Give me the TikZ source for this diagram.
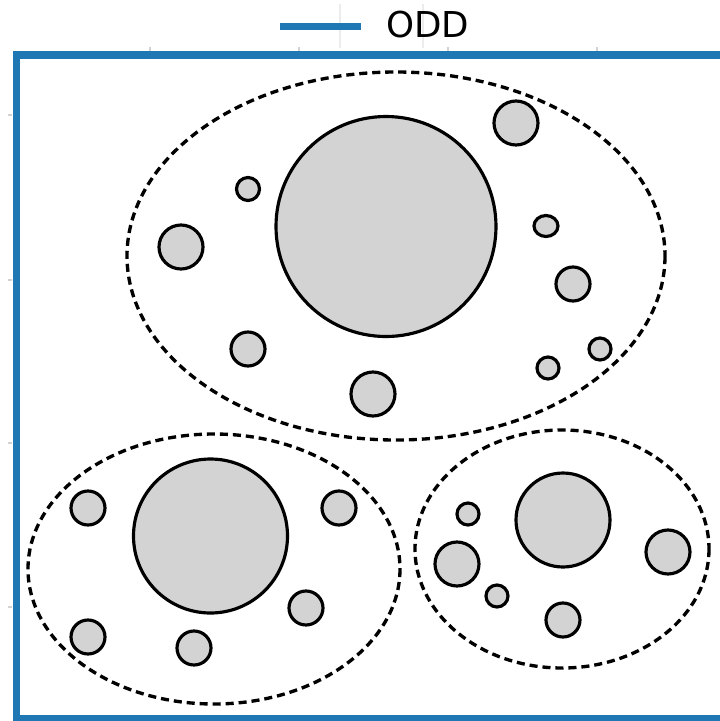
\documentclass[tikz,border=0pt]{standalone}
\usepackage{fontspec}
\setmainfont{DejaVu Sans}
\definecolor{oddblue}{HTML}{1F77B4}
\definecolor{cellgray}{HTML}{D3D3D3}

\begin{document}
\begin{tikzpicture}[x=0.02cm,y=-0.02cm,
  cell/.style={draw=black, fill=cellgray, line width=1.8pt},
  cluster/.style={draw=black, line width=1.9pt, dash pattern=on 4.6pt off 2.8pt},
  tickmark/.style={draw=gray!35, line width=0.7pt}]
\useasboundingbox (0,0) rectangle (720,721);

% legend
\draw[gray!15, line width=0.6pt] (340,4)--(340,48);
\draw[gray!15, line width=0.6pt] (423,4)--(423,48);
\draw[oddblue, line width=4pt] (280,26.5)--(361,26.5);
\node[anchor=west, inner sep=0pt, font=\fontsize{20.3}{22}\selectfont] (oddlabel) at (386,25) {ODD};

% ticks
\foreach \tx in {150,299,448,597} \draw[tickmark] (\tx,47)--(\tx,51);
\foreach \ty in {115,280,443,607} \draw[tickmark] (8,\ty)--(12,\ty);

% frame
\draw[oddblue, line width=4.5pt] (16.5,55) rectangle (740,719);

\begin{scope}
\draw[cluster] (396,256) ellipse (269 and 184);
\draw[cell] (386,226.5) circle (110);

\draw[cell] (516,123) circle (22);
\draw[cell] (248,189) circle (11.5);
\draw[cell] (181,247) circle (22);
\draw[cell] (546,226) ellipse (12 and 10.5);
\draw[cell] (573,284) circle (17);
\draw[cell] (248,349) circle (17);
\draw[cell] (373,394) circle (22);
\draw[cell] (548,368) circle (11);
\draw[cell] (600,349) circle (11);
\end{scope}

\begin{scope}
\draw[cluster] (214,569) ellipse (186 and 135);
\draw[cell] (210.5,536) circle (77);

\draw[cell] (88,508) circle (17);
\draw[cell] (339,508) circle (17);
\draw[cell] (306,608) circle (17);
\draw[cell] (88,637) circle (17);
\draw[cell] (194,648) circle (17);
\end{scope}

\begin{scope}
\draw[cluster] (562,549) ellipse (147 and 119);
\draw[cell] (563,520) circle (47);

\draw[cell] (468,514) circle (11);
\draw[cell] (457,564) circle (22);
\draw[cell] (668,552) circle (22);
\draw[cell] (497,596) circle (11);
\draw[cell] (563,620) circle (17);
\end{scope}
\end{tikzpicture}
\end{document}
